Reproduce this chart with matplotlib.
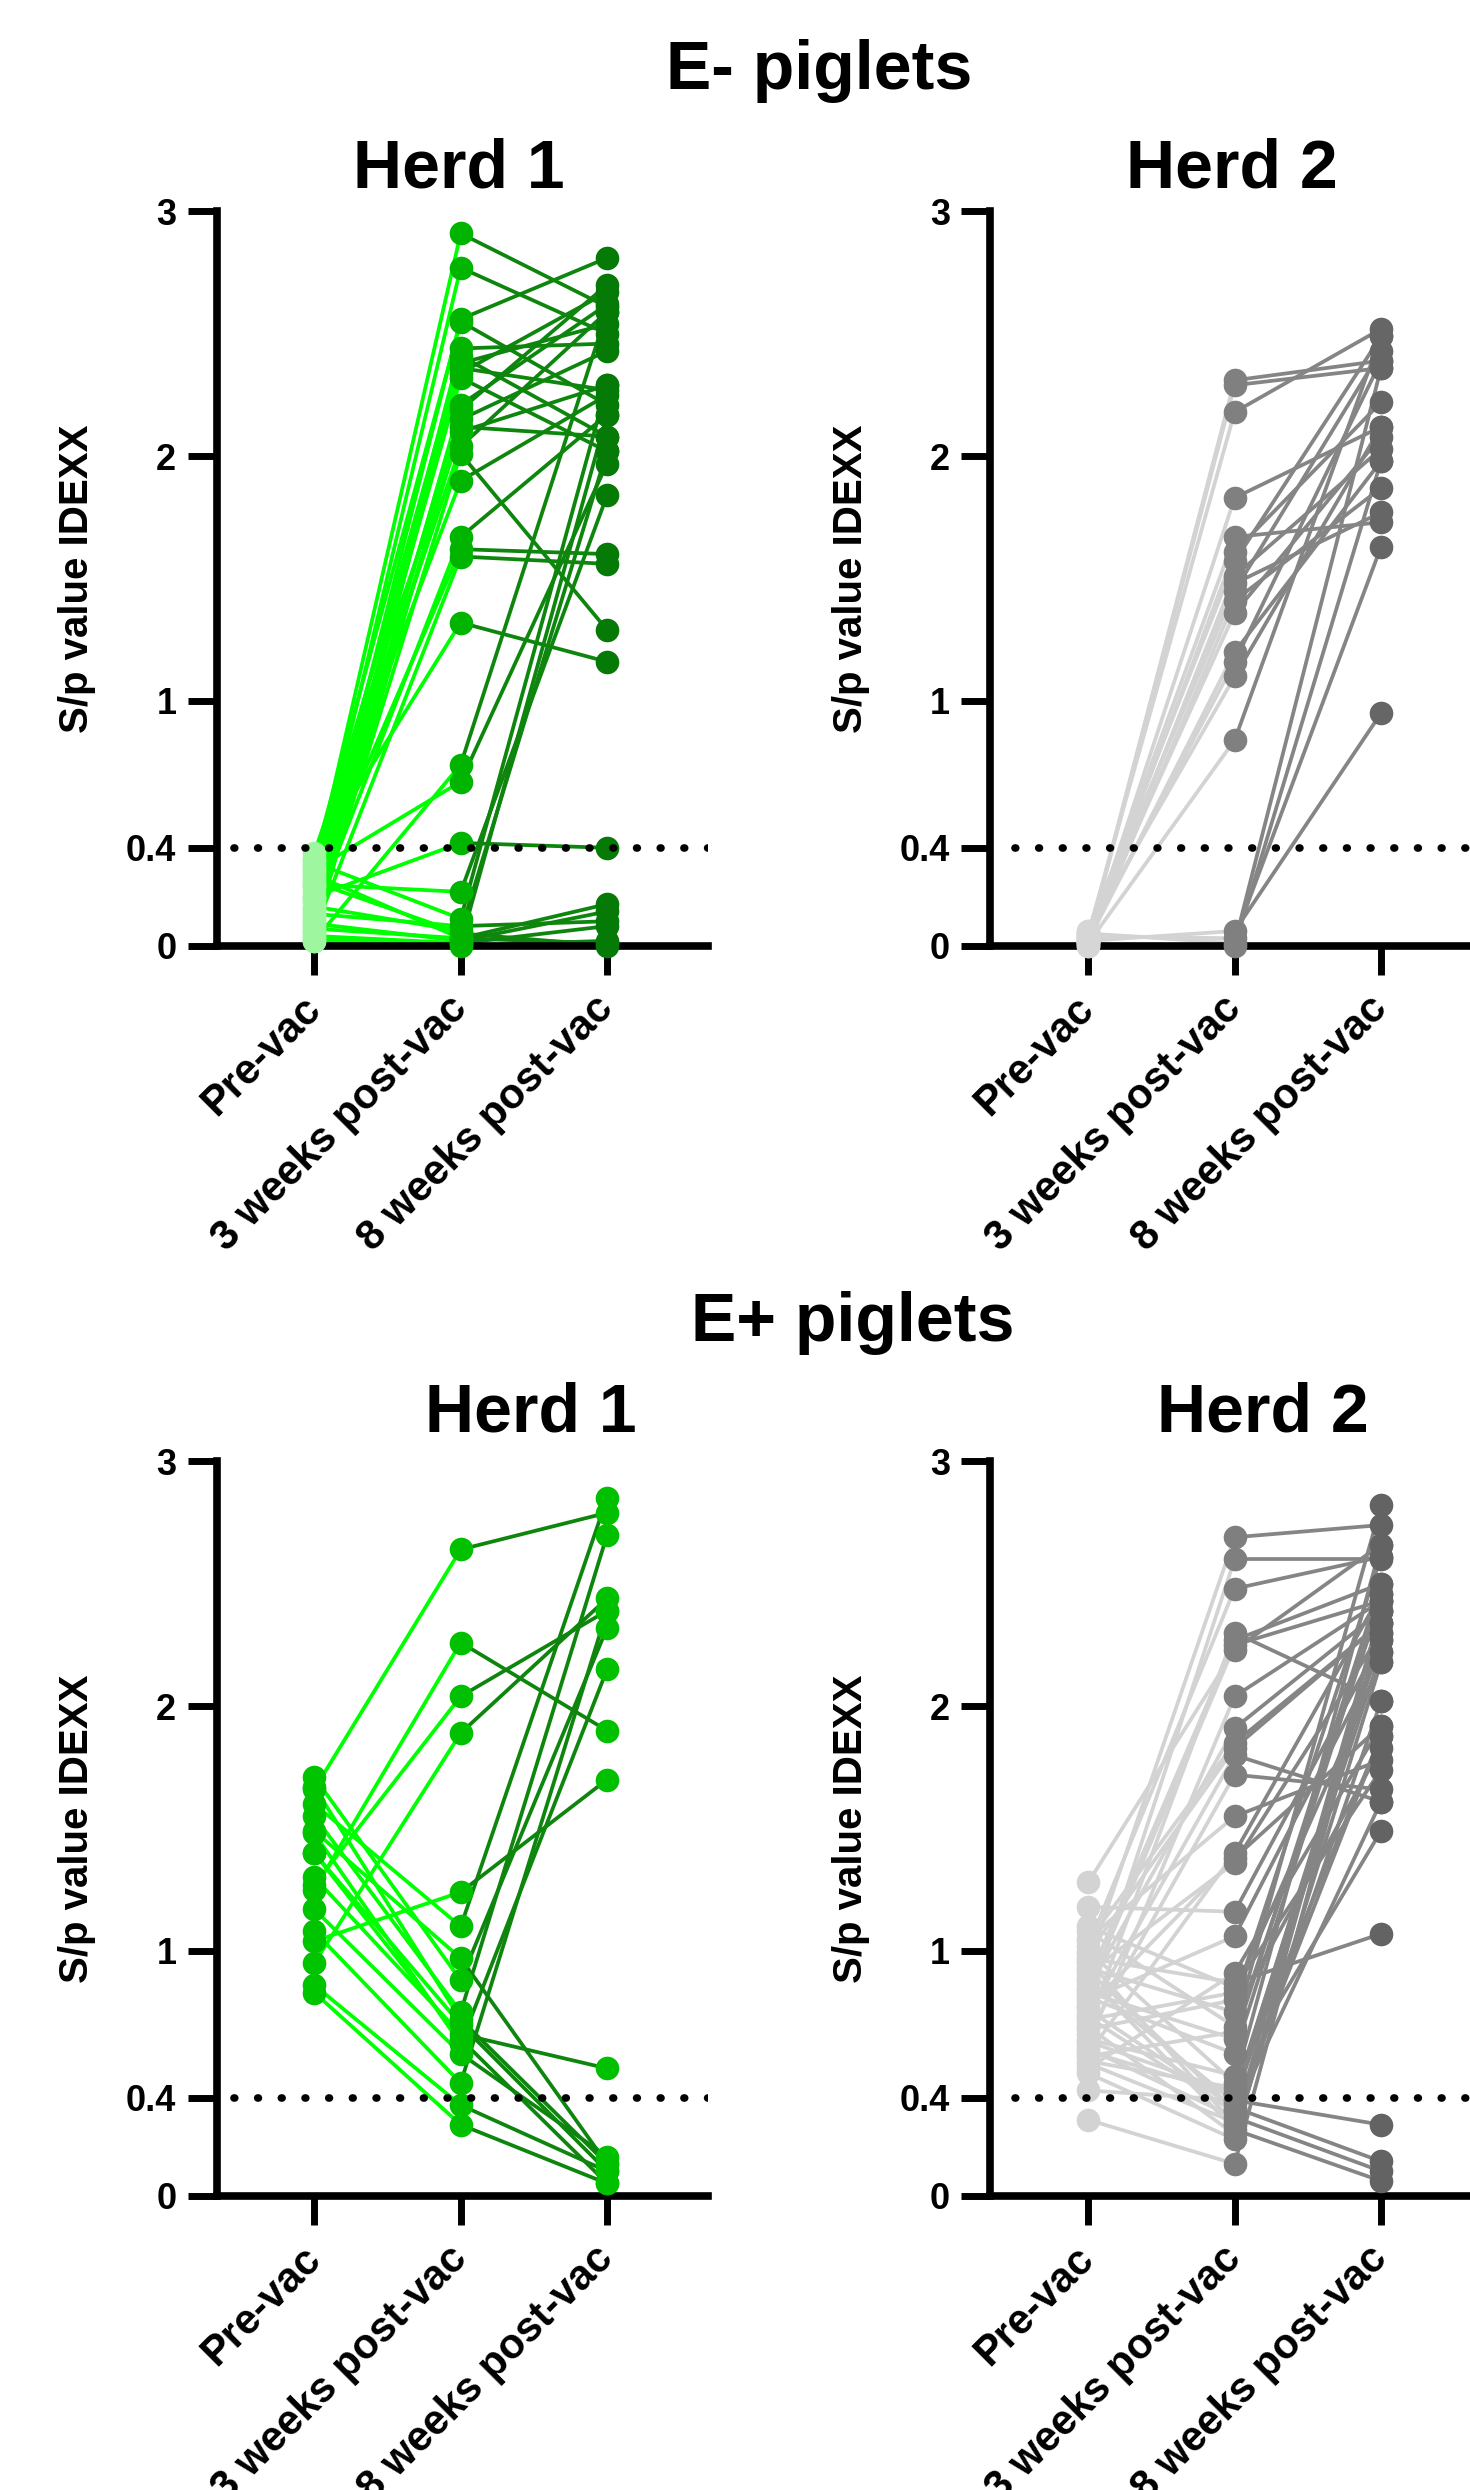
import matplotlib.pyplot as plt

plt.rcParams['font.family'] = ['Liberation Sans', 'DejaVu Sans']
plt.rcParams['font.weight'] = 'bold'

timepoints = ['Pre-vac', '3 weeks post-vac', '8 weeks post-vac']
yticks = [0, 0.4, 1, 2, 3]
ytick_labels = ['0', '0.4', '1', '2', '3']
cutoff = 0.4

# E- piglets, herd 1
em1_pre = [0.30, 0.25, 0.20, 0.35, 0.15, 0.28, 0.10, 0.32, 0.22, 0.18, 0.05, 0.12,
           0.38, 0.27, 0.08, 0.33, 0.14, 0.24, 0.06, 0.36, 0.02, 0.31, 0.20, 0.25,
           0.34, 0.16, 0.29, 0.09, 0.04, 0.02, 0.07, 0.13, 0.03, 0.26, 0.11, 0.19]
em1_w3 = [2.91, 2.77, 2.56, 2.55, 2.44, 2.41, 2.38, 2.34, 2.32, 2.19, 2.15, 2.12,
          2.10, 2.04, 2.01, 1.90, 1.67, 1.62, 1.59, 1.32, 0.74, 0.67, 0.42, 0.22,
          0.11, 0.06, 0.03, 0.02, 0.01, 0.00, 0.03, 0.08, 0.01, 0.05, 2.21, 2.36]
em1_w8 = [2.61, 2.50, 2.81, 2.21, 2.46, 2.08, 2.54, 2.67, 2.02, 2.70, 2.43, 2.08,
          2.29, 2.59, 1.29, 2.25, 2.17, 1.60, 1.56, 1.16, 2.59, 1.97, 0.40, 1.84,
          2.29, 2.02, 0.17, 0.14, 0.08, 0.02, 0.01, 0.10, 2.17, 0.00, 2.62, 2.27]

# E- piglets, herd 2
em2_pre = [0.03, 0.02, 0.05, 0.01, 0.04, 0.02, 0.06, 0.00, 0.03, 0.05,
           0.01, 0.04, 0.02, 0.03, 0.06, 0.01, 0.02, 0.04, 0.05, 0.00]
em2_w3 = [2.31, 2.29, 2.18, 1.83, 1.67, 1.61, 1.57, 1.51, 1.48, 1.45,
          1.41, 1.36, 1.20, 1.16, 1.10, 0.84, 0.06, 0.03, 0.01, 0.00]
em2_w8 = [2.39, 2.36, 2.52, 2.12, 1.73, 2.22, 2.49, 2.03, 1.77, 2.43,
          1.87, 2.08, 1.98, 2.39, 2.12, 2.49, 0.95, 1.63, 2.36, 1.98]

# E+ piglets, herd 1
ep1_pre = [1.66, 1.25, 1.27, 0.95, 1.04, 1.60, 1.49, 1.71, 1.55,
           1.40, 1.30, 1.48, 1.17, 1.08, 0.86, 0.83, 1.67, 1.40]
ep1_w3 = [2.64, 2.26, 2.04, 1.89, 1.24, 1.10, 0.97, 0.88, 0.75,
          0.70, 0.66, 0.62, 0.58, 0.46, 0.37, 0.29, 0.72, 0.64]
ep1_w8 = [2.79, 1.90, 2.39, 2.44, 1.70, 2.85, 0.13, 2.32, 2.70,
          0.10, 0.52, 2.15, 0.16, 2.39, 0.10, 0.05, 0.13, 0.05]

# E+ piglets, herd 2
ep2_pre = [0.95, 0.78, 1.02, 0.70, 0.88, 1.28, 0.62, 0.85, 0.99, 0.74,
           0.66, 1.05, 0.58, 0.91, 1.18, 0.80, 0.52, 0.97, 0.72, 1.08,
           0.83, 0.64, 0.55, 0.43, 0.76, 0.60, 0.89, 0.50, 0.31, 1.10,
           0.68, 0.93, 0.57, 0.81, 1.00, 0.63, 0.87, 0.73, 0.54, 0.96,
           0.69, 0.77, 1.04, 0.84, 0.59, 0.92]
ep2_w3 = [2.69, 2.60, 2.48, 2.30, 2.27, 2.23, 2.04, 1.91, 1.83, 1.80,
          1.72, 1.55, 1.40, 1.36, 1.16, 1.06, 0.91, 0.87, 0.83, 0.69,
          0.64, 0.49, 0.44, 0.39, 0.36, 0.32, 0.27, 0.23, 0.13, 0.85,
          0.80, 0.75, 0.67, 0.58, 0.46, 0.42, 0.38, 0.34, 0.30, 0.29,
          0.25, 1.38, 1.85, 2.25, 0.41, 0.35]
ep2_w8 = [2.74, 2.60, 2.61, 2.02, 2.50, 2.66, 2.43, 2.39, 2.34, 1.61,
          1.66, 1.78, 2.46, 2.30, 2.27, 2.22, 1.92, 1.07, 2.18, 2.82,
          2.50, 1.49, 1.88, 0.29, 0.14, 0.10, 0.06, 2.39, 2.34, 1.74,
          2.61, 1.83, 2.43, 2.46, 2.66, 2.27, 2.22, 1.61, 2.39, 2.02,
          2.18, 1.92, 2.34, 2.43, 2.30, 1.88]

green_lines = ['#00ff00', '#0e860e']
grey_lines = ['#d3d3d3', '#858585']


def panel(ax, pre, w3, w8, line_cols, mark_cols, dot_start):
    for a, b, c in zip(pre, w3, w8):
        ax.plot([0, 1], [a, b], color=line_cols[0], lw=2.7, zorder=2, clip_on=False)
    for a, b, c in zip(pre, w3, w8):
        ax.plot([1, 2], [b, c], color=line_cols[1], lw=2.7, zorder=2, clip_on=False)
    for i, vals in enumerate([pre, w3, w8]):
        ax.plot([i] * len(vals), vals, 'o', ms=17, color=mark_cols[i],
                mec='none', zorder=3, clip_on=False)
    ax.axhline(cutoff, xmin=dot_start, xmax=1, color='black', lw=5.5,
               dashes=(0.1, 3.0), dash_capstyle='round', zorder=4)

    ax.set_xlim(-0.668, 2.688)
    ax.set_ylim(0, 3)
    ax.set_yticks(yticks)
    ax.set_yticklabels(ytick_labels)
    ax.set_xticks([0, 1, 2])
    ax.set_xticklabels(timepoints, rotation=45, ha='right', va='center',
                       rotation_mode='anchor')
    for s in ['top', 'right']:
        ax.spines[s].set_visible(False)
    for s in ['left', 'bottom']:
        ax.spines[s].set_linewidth(5.5)
    ax.tick_params(axis='y', length=21, width=5, pad=8, labelsize=26)
    ax.tick_params(axis='x', length=21, width=5, pad=20, labelsize=30)
    ax.set_ylabel('S/p value IDEXX', fontsize=29, fontweight='bold')
    ax.yaxis.set_label_coords(-0.245, 0.5)


fig = plt.figure(figsize=(14.7, 24.9), dpi=100)

ax1 = fig.add_axes([0.1473, 0.6202, 0.3342, 0.2949])
ax2 = fig.add_axes([0.6738, 0.6202, 0.3342, 0.2949])
ax3 = fig.add_axes([0.1473, 0.1182, 0.3342, 0.2949])
ax4 = fig.add_axes([0.6738, 0.1182, 0.3342, 0.2949])

panel(ax1, em1_pre, em1_w3, em1_w8, green_lines, ['#9ef79e', '#00b400', '#067a06'], 0.036)
panel(ax2, em2_pre, em2_w3, em2_w8, grey_lines, ['#d6d6d6', '#808080', '#666666'], 0.05)
panel(ax3, ep1_pre, ep1_w3, ep1_w8, green_lines, ['#00c400', '#00c000', '#00c000'], 0.036)
panel(ax4, ep2_pre, ep2_w3, ep2_w8, grey_lines, ['#d3d3d3', '#7f7f7f', '#636363'], 0.05)

fig.text(0.557, 0.9714, 'E- piglets', fontsize=49, ha='center', va='center')
fig.text(0.312, 0.9318, 'Herd 1', fontsize=49, ha='center', va='center')
fig.text(0.838, 0.9318, 'Herd 2', fontsize=49, ha='center', va='center')
fig.text(0.580, 0.4688, 'E+ piglets', fontsize=49, ha='center', va='center')
fig.text(0.361, 0.4324, 'Herd 1', fontsize=49, ha='center', va='center')
fig.text(0.859, 0.4324, 'Herd 2', fontsize=49, ha='center', va='center')

fig.savefig('out.png', dpi=100)
